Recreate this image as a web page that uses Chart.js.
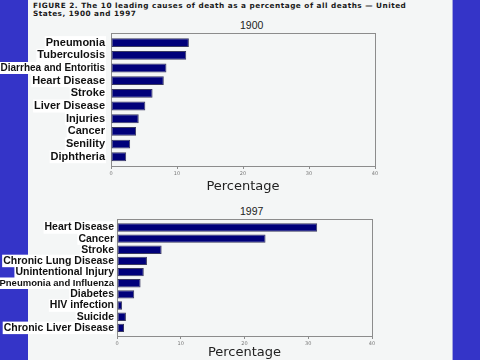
<!DOCTYPE html>
<html>
<head>
<meta charset="utf-8">
<script src="https://cdn.jsdelivr.net/npm/chart.js@4"></script>
<style>
body { margin:0; width:480px; height:360px; background:#3434c8; overflow:hidden; position:relative; font-family:'Liberation Sans', Arial, sans-serif; }
#panel { position:absolute; left:28px; top:0; width:424px; height:360px; background:#f4f6f6; border-right:1px solid #a4a4e0; }
#caption { position:absolute; left:33px; top:2px; font:bold 7.3px 'DejaVu Sans', sans-serif; letter-spacing:0.5px; line-height:7.5px; color:#1a1a1a; white-space:nowrap; }
.ptitle { position:absolute; font-size:10.5px; color:#222; }
canvas { position:absolute; left:0; }
</style>
</head>
<body>
<div id="panel"></div>
<div id="caption">FIGURE 2. The 10 leading causes of death as a percentage of all deaths — United<br>States, 1900 and 1997</div>
<div class="ptitle" style="left:240px; top:19px;">1900</div>
<div class="ptitle" style="left:240px; top:205px;">1997</div>
<canvas id="chart1900" width="452" height="200" style="top:0"></canvas>
<canvas id="chart1997" width="452" height="160" style="top:200px"></canvas>
<script>
const causes1900 = ['Pneumonia', 'Tuberculosis', 'Diarrhea and Entoritis', 'Heart Disease', 'Stroke',
    'Liver Disease', 'Injuries', 'Cancer', 'Senility', 'Diphtheria'];
const values1900 = [11.8, 11.4, 8.4, 8.0, 6.3, 5.2, 4.2, 3.8, 2.9, 2.3];

const causes1997 = ['Heart Disease', 'Cancer', 'Stroke', 'Chronic Lung Disease', 'Unintentional Injury',
    'Pneumonia and Influenza', 'Diabetes', 'HIV infection', 'Suicide', 'Chronic Liver Disease'];
const values1997 = [31.4, 23.3, 7.0, 4.7, 4.2, 3.7, 2.7, 0.8, 1.4, 1.1];

const xTicks = [0, 10, 20, 30, 40];
const axisTitle = 'Percentage';

// thin grey box round the plot area
const framePlugin = {
    id: 'frame',
    beforeDatasetsDraw(chart) {
        const a = chart.chartArea;
        const c = chart.ctx;
        c.save();
        c.strokeStyle = '#8c8c8c';
        c.lineWidth = 1;
        c.strokeRect(Math.round(a.left) + 0.5, Math.round(a.top) + 0.5,
            Math.round(a.right - a.left), Math.round(a.bottom - a.top));
        c.restore();
    }
};

function makeChart(id, causes, values, opt) {
    const points = values.map((v, i) => ({ x: v, y: i }));
    return new Chart(document.getElementById(id), {
        type: 'bar',
        data: {
            datasets: [{
                data: points,
                backgroundColor: '#00007a',
                borderColor: '#3a3a60',
                borderWidth: 1,
                borderSkipped: false,
                categoryPercentage: 1,
                barPercentage: opt.bar
            }]
        },
        options: {
            indexAxis: 'y',
            responsive: false,
            animation: false,
            layout: { padding: { top: opt.top, right: opt.right, left: 0, bottom: opt.bottom } },
            plugins: { legend: { display: false }, tooltip: { enabled: false } },
            scales: {
                x: {
                    type: 'linear',
                    min: xTicks[0],
                    max: xTicks[xTicks.length - 1],
                    afterBuildTicks: s => { s.ticks = xTicks.map(v => ({ value: v })); },
                    afterFit: s => { s.height = opt.xHeight; },
                    border: { display: false },
                    grid: { drawOnChartArea: false, tickLength: 3, color: '#8c8c8c' },
                    ticks: { color: '#777', font: { size: 5, family: 'DejaVu Sans' }, padding: 2, maxRotation: 0 },
                    title: {
                        display: true,
                        text: axisTitle,
                        color: '#222',
                        font: { size: 13, family: 'DejaVu Sans' },
                        padding: { top: 0, bottom: 0 }
                    }
                },
                y: {
                    type: 'linear',
                    reverse: true,
                    offset: false,
                    min: -0.76,
                    max: causes.length - 0.27,
                    afterBuildTicks: s => { s.ticks = causes.map((c, i) => ({ value: i })); },
                    afterFit: s => { s.width = opt.yWidth; },
                    border: { display: false },
                    grid: { display: false, drawTicks: false, offset: false },
                    ticks: {
                        autoSkip: false,
                        padding: opt.pad,
                        color: '#111',
                        callback: v => causes[v] || '',
                        font: ctx => {
                            const label = causes[ctx.tick ? ctx.tick.value : 0] || '';
                            return { family: 'Liberation Sans', weight: 'bold',
                                size: label.length >= 22 ? opt.small : opt.font, lineHeight: 1 };
                        },
                        showLabelBackdrop: true,
                        backdropColor: '#ffffff',
                        backdropPadding: { top: 1, bottom: 1, left: 1, right: 1 }
                    }
                }
            }
        },
        plugins: [framePlugin]
    });
}

makeChart('chart1900', causes1900, values1900,
    { top: 33, right: 77, bottom: 6, xHeight: 28, yWidth: 111, pad: 6, bar: 0.7, font: 11, small: 10 });
makeChart('chart1997', causes1997, values1997,
    { top: 19, right: 80, bottom: 0, xHeight: 24, yWidth: 117, pad: 3, bar: 0.75, font: 10.5, small: 9.5 });
</script>
</body>
</html>
